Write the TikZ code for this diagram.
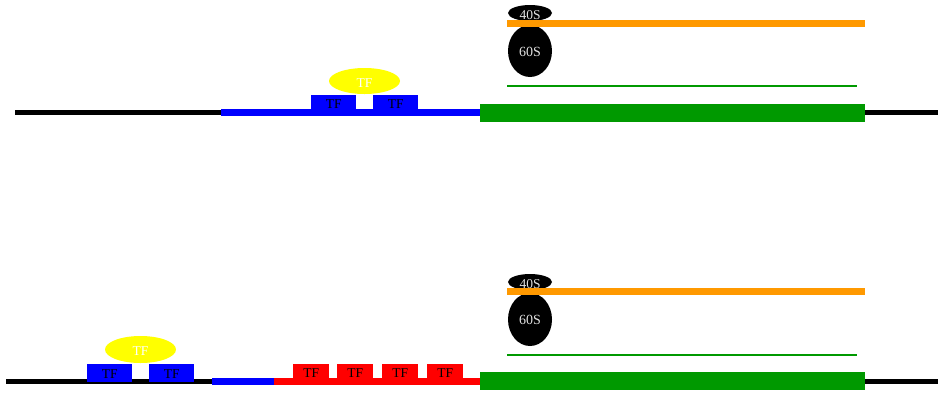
\documentclass[tikz,border=0pt]{standalone}
\usepackage{fontspec}
\setmainfont{Liberation Serif}
\usetikzlibrary{shapes.geometric}
\definecolor{gblue}{RGB}{0,0,255}
\definecolor{gred}{RGB}{255,0,0}
\definecolor{ggreen}{RGB}{0,153,0}
\definecolor{gorange}{RGB}{255,153,0}
\definecolor{gyellow}{RGB}{255,255,0}
\definecolor{rtext}{RGB}{225,225,225}
% text with its baseline placed #1 below the node centre
\newcommand{\bltext}[2]{\raisebox{-#1}{#2}}
\tikzset{
  basetxt/.style={text height=0pt, text depth=0pt, inner sep=0pt},
  tfbox/.style={rectangle, basetxt, anchor=north west, minimum height=14pt, minimum width=45pt, font=\fontsize{13.5}{13.5}\selectfont, text=black},
  tfcap/.style={ellipse, basetxt, minimum width=71pt, minimum height=26pt, fill=gyellow, text=white, font=\fontsize{13.5}{13.5}\selectfont},
  rsmall/.style={ellipse, basetxt, minimum width=44pt, minimum height=16pt, fill=black, text=rtext, font=\fontsize{13.5}{13.5}\selectfont},
  rlarge/.style={ellipse, basetxt, minimum width=44pt, minimum height=52pt, fill=black, text=rtext, font=\fontsize{14}{14}\selectfont},
}
\begin{document}
\begin{tikzpicture}[x=1pt,y=-1pt]
\useasboundingbox (0,0) rectangle (938,392);
% ---------- top panel ----------
\fill[black] (15,110) rectangle (938,114.5);
\fill[gblue] (221,109) rectangle (480,115.5);
\fill[ggreen] (480,104) rectangle (865,122);
\node[tfbox, fill=gblue] (t1) at (311,95) {\bltext{6.5pt}{TF}};
\node[tfbox, fill=gblue] (t2) at (373,95) {\bltext{6.5pt}{TF}};
\node[tfcap] (ty) at (364.5,81) {\bltext{6pt}{TF}};
\node[rsmall] (s40a) at (530,13) {\bltext{6pt}{40S}};
\node[rlarge] (s60a) at (530,51) {\bltext{5pt}{60S}};
\fill[gorange] (507,20) rectangle (865,27);
\fill[ggreen] (507,85) rectangle (857,87);
% ---------- bottom panel ----------
\fill[black] (6,379) rectangle (212,384);
\fill[black] (865,379) rectangle (938,384);
\fill[gblue] (212,378) rectangle (274,385);
\fill[gred] (274,378) rectangle (480,385);
\fill[ggreen] (480,372) rectangle (865,390);
\node[tfbox, fill=gblue, minimum height=18pt] (b1) at (87,364) {\bltext{5pt}{TF}};
\node[tfbox, fill=gblue, minimum height=18pt] (b2) at (149,364) {\bltext{5pt}{TF}};
\node[tfcap, minimum height=27pt] (by) at (140.5,349.5) {\bltext{5.5pt}{TF}};
\node[tfbox, fill=gred, minimum width=36pt] (r1) at (293,364) {\bltext{6pt}{TF}};
\node[tfbox, fill=gred, minimum width=36pt] (r2) at (337,364) {\bltext{6pt}{TF}};
\node[tfbox, fill=gred, minimum width=36pt] (r3) at (382,364) {\bltext{6pt}{TF}};
\node[tfbox, fill=gred, minimum width=36pt] (r4) at (427,364) {\bltext{6pt}{TF}};
\node[rsmall] (s40b) at (530,282) {\bltext{6pt}{40S}};
\node[rlarge, minimum height=53pt] (s60b) at (530,319.5) {\bltext{5pt}{60S}};
\fill[gorange] (507,288) rectangle (865,295);
\fill[ggreen] (507,354) rectangle (857,356);
\end{tikzpicture}
\end{document}
